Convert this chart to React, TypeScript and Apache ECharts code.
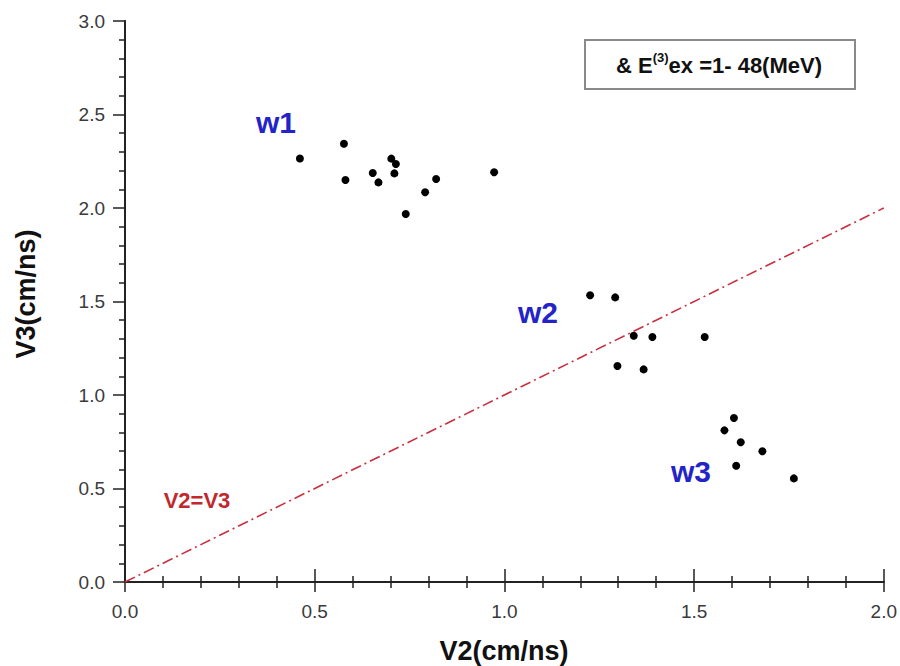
import React, { useEffect, useRef } from "react";
import * as echarts from "echarts";

// Measured velocities V2 (x) and V3 (y), in cm/ns, for three groups of events
const w1V2 = [0.461, 0.577, 0.581, 0.653, 0.668, 0.702, 0.714, 0.71, 0.74, 0.791, 0.82, 0.973];
const w1V3 = [2.265, 2.344, 2.15, 2.187, 2.137, 2.264, 2.235, 2.185, 1.968, 2.084, 2.155, 2.191];

const w2V2 = [1.226, 1.292, 1.341, 1.39, 1.528, 1.298, 1.367];
const w2V3 = [1.533, 1.522, 1.317, 1.31, 1.31, 1.155, 1.137];

const w3V2 = [1.605, 1.58, 1.623, 1.68, 1.611, 1.763];
const w3V3 = [0.877, 0.811, 0.747, 0.699, 0.622, 0.554];

// Reference line V2 = V3
const diagonalV2 = [0, 2];
const diagonalV3 = [0, 2];

const FONT = "'Liberation Sans', Arial, Helvetica, sans-serif";

const pairs = (xs: number[], ys: number[]) => xs.map((x, i) => [x, ys[i]]);

export default function App() {
  const ref = useRef<HTMLDivElement>(null);

  useEffect(() => {
    if (!ref.current) return;
    const chart = echarts.init(ref.current, null, { renderer: "svg" });

    const axisLine = { show: true, lineStyle: { color: "#222", width: 1.8 } };
    const tickStyle = { color: "#222", width: 1.5 };
    const label = {
      fontFamily: FONT,
      fontSize: 19,
      color: "#3a3a3a",
      margin: 20,
      formatter: (v: number) => v.toFixed(1),
    };

    const dotStyle = { color: "#000", opacity: 1 };

    chart.setOption({
      animation: false,
      backgroundColor: "#fff",
      grid: { left: 125, right: 15, top: 21, bottom: 84, containLabel: false },
      xAxis: [
        {
          type: "value",
          position: "bottom",
          min: 0,
          max: 2,
          interval: 0.5,
          axisLine,
          axisTick: { show: true, length: 10, lineStyle: tickStyle },
          minorTick: { show: true, splitNumber: 5, length: 6, lineStyle: tickStyle },
          splitLine: { show: false },
          axisLabel: label,
        },
        {
          type: "value",
          position: "top",
          min: 0,
          max: 2,
          interval: 0.5,
          axisLine,
          axisTick: { show: true, length: 13, lineStyle: tickStyle },
          minorTick: { show: true, splitNumber: 5, length: 6, lineStyle: tickStyle },
          splitLine: { show: false },
          axisLabel: { show: false },
        },
      ],
      yAxis: [
        {
          type: "value",
          position: "left",
          min: 0,
          max: 3,
          interval: 0.5,
          axisLine,
          axisTick: { show: true, length: 12, lineStyle: tickStyle },
          minorTick: { show: true, splitNumber: 5, length: 6, lineStyle: tickStyle },
          splitLine: { show: false },
          axisLabel: label,
        },
        {
          type: "value",
          position: "right",
          min: 0,
          max: 3,
          interval: 0.5,
          axisLine,
          axisTick: { show: false },
          splitLine: { show: false },
          axisLabel: { show: false },
        },
      ],
      series: [
        {
          type: "line",
          data: pairs(diagonalV2, diagonalV3),
          symbol: "none",
          lineStyle: { color: "#c8303f", width: 1.6, type: [11, 4, 2, 4] },
          silent: true,
          z: 1,
        },
        {
          type: "scatter",
          data: pairs(w1V2, w1V3),
          symbolSize: 8,
          itemStyle: dotStyle,
          z: 3,
        },
        {
          type: "scatter",
          data: pairs(w2V2, w2V3),
          symbolSize: 8,
          itemStyle: dotStyle,
          z: 3,
        },
        {
          type: "scatter",
          data: pairs(w3V2, w3V3),
          symbolSize: 8,
          itemStyle: dotStyle,
          z: 3,
        },
      ],
      graphic: [
        {
          type: "rect",
          shape: { x: 585, y: 40, width: 270, height: 49 },
          style: { fill: "#fff", stroke: "#8a8a8a", lineWidth: 2 },
          z: 10,
        },
        {
          type: "text",
          x: 719,
          y: 65,
          z: 11,
          style: {
            text: "{a|& E}{s|(3)}{a|ex =1- 48(MeV)}",
            align: "center",
            verticalAlign: "middle",
            rich: {
              a: { fontFamily: FONT, fontSize: 22, fontWeight: "bold", fill: "#111", lineHeight: 28 },
              s: {
                fontFamily: FONT,
                fontSize: 13,
                fontWeight: "bold",
                fill: "#111",
                lineHeight: 14,
                verticalAlign: "top",
              },
            },
          },
        },
        {
          type: "text",
          x: 276,
          y: 122,
          style: {
            text: "w1",
            fontFamily: FONT,
            fontSize: 30,
            fontWeight: "bold",
            fill: "#2323c8",
            align: "center",
            verticalAlign: "middle",
          },
        },
        {
          type: "text",
          x: 538,
          y: 312,
          style: {
            text: "w2",
            fontFamily: FONT,
            fontSize: 30,
            fontWeight: "bold",
            fill: "#2323c8",
            align: "center",
            verticalAlign: "middle",
          },
        },
        {
          type: "text",
          x: 691,
          y: 471,
          style: {
            text: "w3",
            fontFamily: FONT,
            fontSize: 30,
            fontWeight: "bold",
            fill: "#2323c8",
            align: "center",
            verticalAlign: "middle",
          },
        },
        {
          type: "text",
          x: 197,
          y: 500,
          style: {
            text: "V2=V3",
            fontFamily: FONT,
            fontSize: 22,
            fontWeight: "bold",
            fill: "#c0282e",
            align: "center",
            verticalAlign: "middle",
          },
        },
        {
          type: "text",
          x: 504,
          y: 651,
          style: {
            text: "V2(cm/ns)",
            fontFamily: FONT,
            fontSize: 27,
            fontWeight: "bold",
            fill: "#111",
            align: "center",
            verticalAlign: "middle",
          },
        },
        {
          type: "text",
          x: 26,
          y: 294,
          rotation: Math.PI / 2,
          style: {
            text: "V3(cm/ns)",
            fontFamily: FONT,
            fontSize: 27,
            fontWeight: "bold",
            fill: "#111",
            align: "center",
            verticalAlign: "middle",
          },
        },
      ],
    });

    return () => chart.dispose();
  }, []);

  return (
    <div
      ref={ref}
      style={{ position: "fixed", left: 0, top: 0, width: 900, height: 666, background: "#fff" }}
    />
  );
}
